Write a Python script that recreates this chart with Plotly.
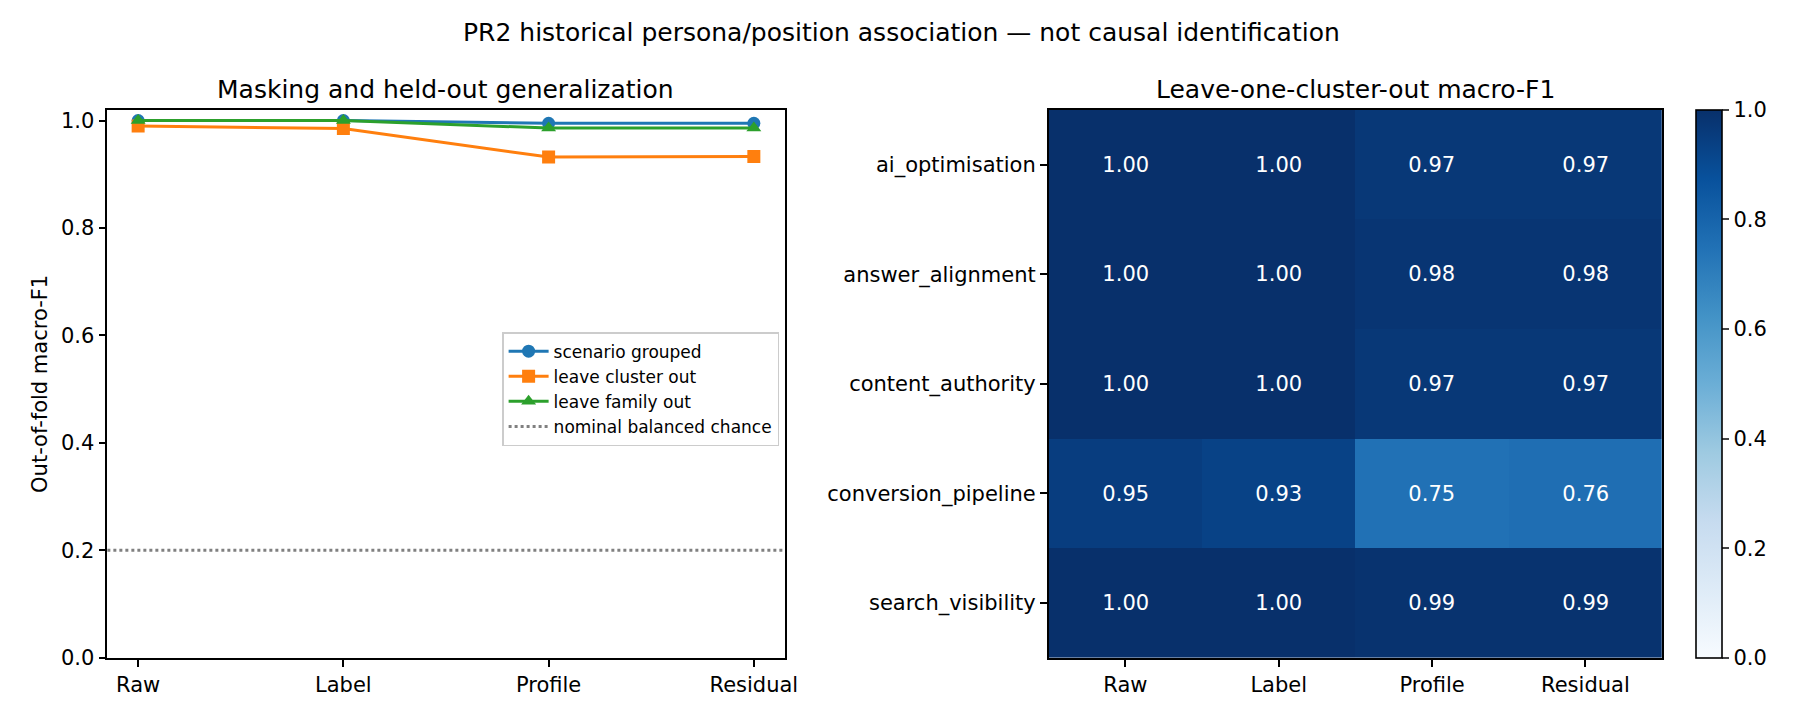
import plotly.graph_objects as go
import plotly.express as px

stages = ["Raw", "Label", "Profile", "Residual"]

scenario_grouped = [1.0, 1.0, 0.995, 0.995]
leave_cluster_out = [0.99, 0.985, 0.932, 0.933]
leave_family_out = [1.0, 1.0, 0.986, 0.986]
nominal_chance = 0.2

clusters = ["ai_optimisation", "answer_alignment", "content_authority",
            "conversion_pipeline", "search_visibility"]
lococ_f1 = [
    [1.00, 1.00, 0.97, 0.97],
    [1.00, 1.00, 0.98, 0.98],
    [1.00, 1.00, 0.97, 0.97],
    [0.95, 0.93, 0.75, 0.76],
    [1.00, 1.00, 0.99, 0.99],
]

FONT = "DejaVu Sans"
LEFT_X = [0.0556, 0.4346]
HEAT_X = [0.5824, 0.9256]
PLOT_Y = [0.0824, 0.8574]

fig = go.Figure()

series = [
    ("scenario grouped", scenario_grouped, "#1f77b4", "circle"),
    ("leave cluster out", leave_cluster_out, "#ff7f0e", "square"),
    ("leave family out", leave_family_out, "#2ca02c", "triangle-up"),
]
for name, vals, col, sym in series:
    fig.add_trace(go.Scatter(x=stages, y=vals, name=name, mode="lines+markers",
                             line=dict(color=col, width=3),
                             marker=dict(symbol=sym, size=13, color=col),
                             xaxis="x", yaxis="y"))

# chance line, shown in the legend as well
fig.add_hline(y=nominal_chance, line=dict(color="#808080", width=3, dash="dot"),
              showlegend=True, name="nominal balanced chance")

fig.add_trace(go.Heatmap(z=lococ_f1, x=stages, y=clusters, xaxis="x2", yaxis="y2",
                         colorscale=px.colors.sequential.Blues, zmin=0, zmax=1,
                         texttemplate="%{z:.2f}", textfont=dict(color="white", size=21, family=FONT),
                         showlegend=False,
                         colorbar=dict(x=0.9444, xanchor="left", xpad=0,
                                       y=PLOT_Y[0], yanchor="bottom", ypad=0,
                                       len=PLOT_Y[1] - PLOT_Y[0], lenmode="fraction",
                                       thickness=26, thicknessmode="pixels",
                                       outlinewidth=1.6, outlinecolor="black",
                                       ticks="outside", ticklen=7, tickwidth=1.6,
                                       tickvals=[0, 0.2, 0.4, 0.6, 0.8, 1.0], tickformat=".1f",
                                       tickfont=dict(size=21, family=FONT, color="black"))))

axis_style = dict(showline=True, linecolor="black", linewidth=1.6, mirror=True,
                  ticks="outside", ticklen=7, tickwidth=1.6, tickcolor="black",
                  showgrid=False, zeroline=False,
                  tickfont=dict(size=21, family=FONT, color="black"))

fig.update_layout(
    width=1800, height=720,
    margin=dict(l=0, r=0, t=0, b=0),
    paper_bgcolor="white", plot_bgcolor="white",
    font=dict(family=FONT, color="black"),
    xaxis=dict(domain=LEFT_X, anchor="y", type="category",
               range=[-0.15, 3.15], **axis_style),
    yaxis=dict(domain=PLOT_Y, anchor="x", range=[0, 1.02],
               tickvals=[0, 0.2, 0.4, 0.6, 0.8, 1.0], tickformat=".1f", **axis_style),
    xaxis2=dict(domain=HEAT_X, anchor="y2", **axis_style),
    yaxis2=dict(domain=PLOT_Y, anchor="x2", autorange="reversed", **axis_style),
    legend=dict(x=0.2765, y=0.543, xanchor="left", yanchor="top", itemwidth=40,
                bordercolor="#cccccc", borderwidth=1.5, bgcolor="rgba(255,255,255,0.8)",
                font=dict(size=17, family=FONT, color="black")),
)

fig.add_annotation(text="PR2 historical persona/position association \u2014 not causal identification",
                   x=0.5, y=0.967, xref="paper", yref="paper", showarrow=False,
                   font=dict(size=25, family=FONT), xanchor="center", yanchor="middle")
fig.add_annotation(text="Masking and held-out generalization",
                   x=sum(LEFT_X) / 2, y=0.886, xref="paper", yref="paper", showarrow=False,
                   font=dict(size=25, family=FONT), xanchor="center", yanchor="middle")
fig.add_annotation(text="Leave-one-cluster-out macro-F1",
                   x=sum(HEAT_X) / 2, y=0.886, xref="paper", yref="paper", showarrow=False,
                   font=dict(size=25, family=FONT), xanchor="center", yanchor="middle")
fig.add_annotation(text="Out-of-fold macro-F1", textangle=-90,
                   x=0.018, y=sum(PLOT_Y) / 2, xref="paper", yref="paper", showarrow=False,
                   font=dict(size=21, family=FONT), xanchor="center", yanchor="middle")

fig.write_html("out.html")
